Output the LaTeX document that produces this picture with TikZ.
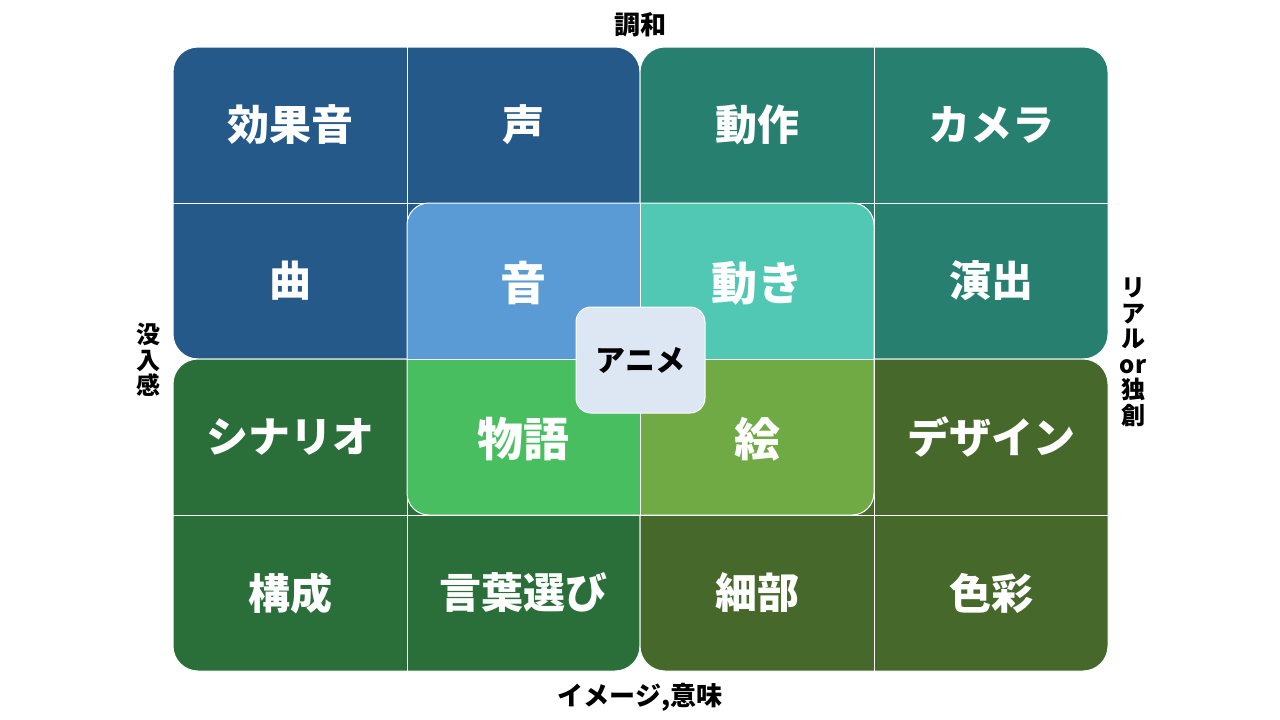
\documentclass[tikz,border=0pt]{standalone}
\usepackage{fontspec}
\newfontfamily\jp{Noto Sans CJK JP}
\definecolor{qblue}{RGB}{36,89,138}
\definecolor{qteal}{RGB}{38,127,111}
\definecolor{qgreen}{RGB}{42,111,57}
\definecolor{qolive}{RGB}{70,105,43}
\definecolor{lblue}{RGB}{91,155,213}
\definecolor{lteal}{RGB}{80,200,180}
\definecolor{lgreen}{RGB}{73,190,96}
\definecolor{lolive}{RGB}{112,170,69}
\definecolor{ccol}{RGB}{221,231,243}
\begin{document}
\begin{tikzpicture}[x=1pt,y=-1pt,
  cell/.style={text=white,font=\jp\bfseries\fontsize{42}{42}\selectfont},
  icell/.style={text=white,font=\jp\bfseries\fontsize{46}{46}\selectfont},
  axislab/.style={text=black,font=\jp\bfseries\fontsize{24}{25.5}\selectfont,align=center,inner sep=0pt},
  haxislab/.style={axislab,font=\jp\bfseries\fontsize{26}{26}\selectfont},
  quad/.style={draw=white,line width=1pt,rounded corners=25pt},
  gridline/.style={draw=white,line width=1pt}]
\useasboundingbox[fill=white] (0,0) rectangle (1280,720);
% quadrants
\path[quad,fill=qblue] (173,47) rectangle (640,359);
\path[quad,fill=qteal] (640,47) rectangle (1108,359);
\path[quad,fill=qgreen] (173,359) rectangle (640,671);
\path[quad,fill=qolive] (640,359) rectangle (1108,671);
% grid lines
\path[gridline] (407,47) -- (407,671);
\path[gridline] (874,47) -- (874,671);
\path[gridline] (173,203) -- (1108,203);
\path[gridline] (173,515) -- (1108,515);
% inner block
\begin{scope}
\clip[rounded corners=22pt] (407,203) rectangle (874,515);
\fill[lblue] (407,203) rectangle (640,359);
\fill[lteal] (640,203) rectangle (874,359);
\fill[lgreen] (407,359) rectangle (640,515);
\fill[lolive] (640,359) rectangle (874,515);
\end{scope}
\path[gridline,rounded corners=22pt] (407,203) rectangle (874,515);
\path[gridline] (640,203) -- (640,515);
\path[gridline] (407,359) -- (874,359);
% outer cell texts
\node[cell] (c11) at (290,125) {効果音};
\node[cell] (c12) at (523.5,125) {声};
\node[cell] (c13) at (757,125) {動作};
\node[cell] (c14) at (991,125) {カメラ};
\node[cell] (c21) at (290,281) {曲};
\node[cell] (c24) at (991,281) {演出};
\node[cell] (c31) at (290,437) {シナリオ};
\node[cell] (c34) at (991,437) {デザイン};
\node[cell] (c41) at (290,593) {構成};
\node[cell] (c42) at (523.5,593) {言葉選び};
\node[cell] (c43) at (757,593) {細部};
\node[cell] (c44) at (991,593) {色彩};
% inner cell texts
\node[icell] (c22) at (523.5,283) {音};
\node[icell] (c23) at (757,283) {動き};
\node[icell] (c32) at (523.5,439) {物語};
\node[icell] (c33) at (757,439) {絵};
% centre
\node[draw=white,line width=1pt,fill=ccol,rounded corners=15pt,minimum width=129pt,minimum height=106pt,inner sep=0pt,text=black,font=\jp\bfseries\fontsize{30}{30}\selectfont] (anime) at (640.5,360) {アニメ};
% axis labels
\node[haxislab] (top) at (640,25) {調和};
\node[haxislab] (bottom) at (640,697) {イメージ,意味};
\node[axislab] (left) at (148,360) {没\\入\\感};
\node[axislab] (right) at (1133,352) {リ\\ア\\ル\\or\\独\\創};
\end{tikzpicture}
\end{document}
